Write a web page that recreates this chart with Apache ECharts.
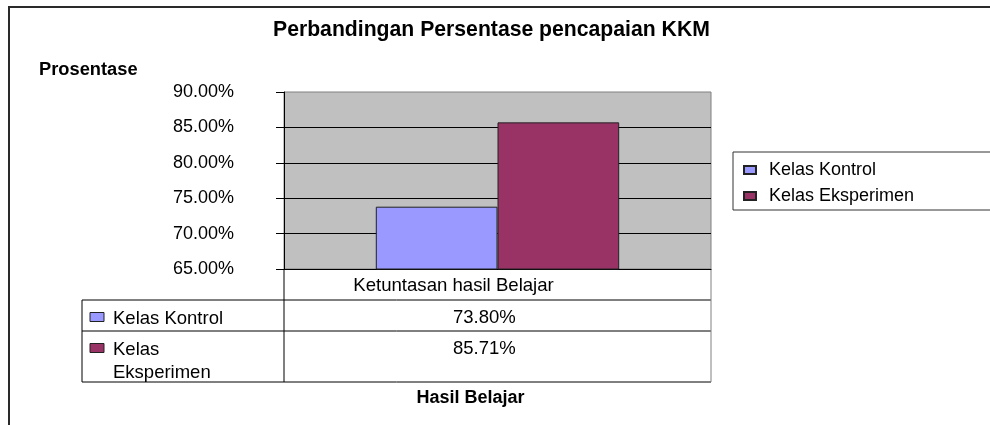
<!DOCTYPE html>
<html>
<head>
<meta charset="utf-8">
<script src="https://cdn.jsdelivr.net/npm/echarts@6/dist/echarts.min.js"></script>
<style>html,body{margin:0;padding:0;background:#fff}#c{width:990px;height:425px}</style>
</head>
<body>
<div id="c"></div>
<script>
var categories = ['Ketuntasan hasil Belajar'];
var seriesNames = ['Kelas Kontrol', 'Kelas Eksperimen'];
var kontrolValues = [73.80];
var eksperimenValues = [85.71];
var seriesColors = ['#9999FF', '#993366'];
var yMin = 65, yMax = 90, yStep = 5;
var chartTitle = 'Perbandingan Persentase pencapaian KKM';
var yTitle = 'Prosentase';
var xTitle = 'Hasil Belajar';

var FONT = '"Liberation Sans", Arial, sans-serif';
var W = 990, H = 425;
var G = {left: 284, top: 92, right: 279, bottom: 156};
var gx0 = G.left, gx1 = W - G.right, gy1 = H - G.bottom;
var tLeft = 82, r1 = gy1 + 31, r2 = r1 + 31, r3 = r2 + 51;

function pct(v) { return v.toFixed(2) + '%'; }

var allValues = [kontrolValues, eksperimenValues];

var graphics = [
  {type: 'rect', shape: {x: 9, y: 7, width: 1200, height: 800}, style: {fill: null, stroke: '#2a2a2a', lineWidth: 2}, silent: true},
  {type: 'line', shape: {x1: tLeft, y1: r1, x2: gx1, y2: r1}, style: {stroke: '#000', lineWidth: 1}},
  {type: 'line', shape: {x1: tLeft, y1: r2, x2: gx1, y2: r2}, style: {stroke: '#000', lineWidth: 1}},
  {type: 'line', shape: {x1: tLeft, y1: r3, x2: gx1, y2: r3}, style: {stroke: '#000', lineWidth: 1}},
  {type: 'line', shape: {x1: tLeft, y1: r1, x2: tLeft, y2: r3}, style: {stroke: '#000', lineWidth: 1}},
  {type: 'line', shape: {x1: gx0, y1: gy1, x2: gx0, y2: r3}, style: {stroke: '#000', lineWidth: 1}},
  {type: 'line', shape: {x1: gx1, y1: gy1, x2: gx1, y2: r3}, style: {stroke: '#808080', lineWidth: 1}}
];
var rowTops = [r1, r2];
for (var i = 0; i < seriesNames.length; i++) {
  var cy = rowTops[i] + 17;
  graphics.push({type: 'rect', shape: {x: 90, y: cy - 4.5, width: 14, height: 9}, style: {fill: seriesColors[i], stroke: '#222', lineWidth: 1}});
  var label = i === 1 ? seriesNames[i].replace(' ', '\n') : seriesNames[i];
  graphics.push({type: 'text', x: 113, y: cy - 10, style: {text: label, font: '18.5px ' + FONT, fill: '#000', lineHeight: 23, verticalAlign: 'top'}});
  graphics.push({type: 'text', x: 453, y: cy - 11, style: {text: pct(allValues[i][0]), font: '18.5px ' + FONT, fill: '#000', lineHeight: 23, verticalAlign: 'top'}});
}

var chart = echarts.init(document.getElementById('c'), null, {renderer: 'canvas'});
chart.setOption({
  animation: false,
  backgroundColor: '#fff',
  textStyle: {fontFamily: FONT},
  title: [
    {text: chartTitle, left: 273, top: 20, padding: 0, textStyle: {fontFamily: FONT, fontSize: 21.2, fontWeight: 'bold', color: '#000'}},
    {text: yTitle, left: 39, top: 61, padding: 0, textStyle: {fontFamily: FONT, fontSize: 18.3, fontWeight: 'bold', color: '#000'}}
  ],
  legend: {
    data: seriesNames,
    orient: 'vertical',
    left: 733, top: 152,
    padding: [8, 90, 4, 10],
    icon: 'rect',
    itemWidth: 12, itemHeight: 8, itemGap: 6,
    borderColor: '#333', borderWidth: 1,
    textStyle: {fontFamily: FONT, fontSize: 18, color: '#000', lineHeight: 20, padding: [0, 0, 0, 8]}
  },
  grid: {left: G.left, top: G.top, right: G.right, bottom: G.bottom, show: true, backgroundColor: '#c0c0c0', borderColor: '#808080', borderWidth: 1, containLabel: false},
  xAxis: {
    type: 'category', data: categories,
    axisLine: {show: true, lineStyle: {color: '#000', width: 1}},
    axisTick: {show: false},
    axisLabel: {fontFamily: FONT, fontSize: 18.6, color: '#000', margin: 7, padding: [0, 88, 0, 0]},
    name: xTitle, nameLocation: 'middle', nameGap: 120,
    nameTextStyle: {fontFamily: FONT, fontSize: 18, fontWeight: 'bold', color: '#000', padding: [0, 54, 0, 0]}
  },
  yAxis: {
    type: 'value', min: yMin, max: yMax, interval: yStep,
    axisLine: {show: true, lineStyle: {color: '#000', width: 1}},
    axisTick: {show: true, inside: false, length: 8, lineStyle: {color: '#000'}},
    axisLabel: {fontFamily: FONT, fontSize: 18, color: '#000', margin: 50, formatter: function (v) { return pct(v); }},
    splitLine: {show: true, showMaxLine: false, lineStyle: {color: '#000', width: 1}}
  },
  series: [
    {name: seriesNames[0], type: 'bar', data: kontrolValues, barGap: '0%', barCategoryGap: '43%', itemStyle: {color: seriesColors[0], borderColor: '#222', borderWidth: 1}},
    {name: seriesNames[1], type: 'bar', data: eksperimenValues, barGap: '0%', barCategoryGap: '43%', itemStyle: {color: seriesColors[1], borderColor: '#222', borderWidth: 1}}
  ],
  graphic: graphics
});
</script>
</body>
</html>
